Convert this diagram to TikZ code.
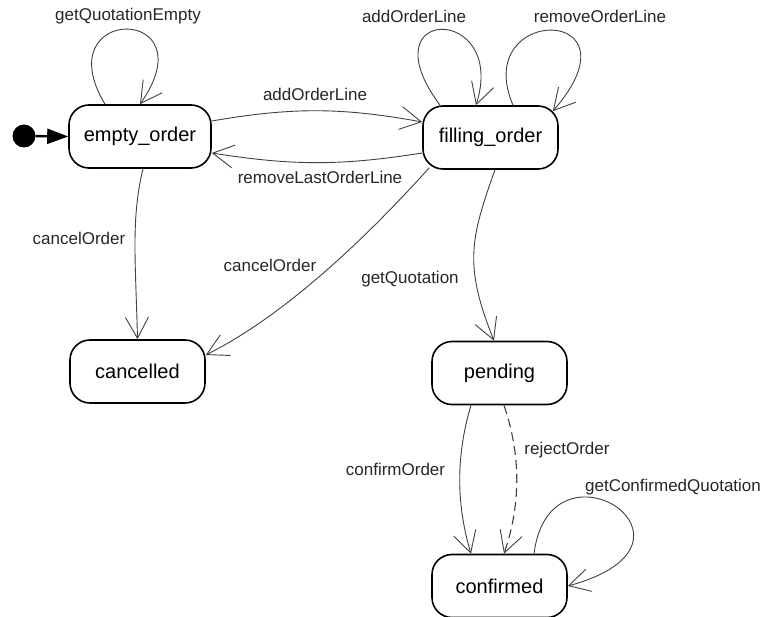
\documentclass[tikz,border=0pt]{standalone}
\usepackage{fontspec}
\setmainfont{Liberation Sans}
\usetikzlibrary{arrows.meta}

\tikzset{
  state/.style={draw=black, line width=1.6pt, rounded corners=20pt,
    minimum width=135pt, minimum height=63pt, inner sep=0pt,
    font=\fontsize{20}{24}\selectfont},
  trans/.style={draw=black!75, line width=0.9pt,
    -{Straight Barb[length=21pt,width=23pt,line width=0.9pt]}},
  lbl/.style={font=\fontsize{17}{20}\selectfont, inner sep=0pt, text=black!85},
  initdot/.style={circle, fill=black, minimum size=23pt, inner sep=0pt},
  initarrow/.style={line width=2.4pt, -{Triangle[length=21pt,width=15pt]}},
}

\begin{document}
\begin{tikzpicture}[x=1pt, y=1pt]
  \useasboundingbox (0,0) rectangle (769,-617);

  % states
  \node[state, minimum width=142pt] (eo) at (140,-136.5) {empty\_order};
  \node[state] (fo) at (490.5,-137.5) {filling\_order};
  \node[state] (ca) at (137.5,-371.5) {cancelled};
  \node[state] (pe) at (499.5,-373) {pending};
  \node[state] (co) at (499.5,-586) {confirmed};

  % initial pseudostate
  \node[initdot] (init) at (24,-136) {};
  \draw[initarrow] (init) -- (eo.west);

  % self loops
  \draw[trans] ([xshift=-35pt]eo.north) .. controls +(-60,100) and +(70,100) .. (eo.north);
  \draw[trans] ([xshift=-50.5pt]fo.north) .. controls +(-75,101) and +(32,101) .. ([xshift=-14.5pt]fo.north);
  \draw[trans] ([xshift=22.5pt]fo.north) .. controls +(-43,101) and +(93,107) .. ([xshift=-6pt,yshift=-6pt]fo.north east);
  \draw[trans] ([xshift=34.5pt]co.north) .. controls +(16,125) and +(158,43) .. (co.east);

  % transitions between states
  \draw[trans] ([yshift=15.5pt]eo.east) to[bend left=10] ([yshift=15.5pt]fo.west);
  \draw[trans] ([yshift=-15.5pt]fo.west) to[bend left=9] ([yshift=-16.5pt]eo.east);
  \draw[trans] ([xshift=3pt]eo.south) .. controls +(-12,-50) and +(-2,80) .. (ca.north);
  \draw[trans] ([xshift=7pt,yshift=2pt]fo.south west) .. controls +(-45,-50) and +(90,45) .. ([yshift=16.5pt]ca.east);
  \draw[trans] ([xshift=4.5pt]fo.south) .. controls +(-25,-70) and +(-30,75) .. ([xshift=-5.5pt]pe.north);
  \draw[trans] ([xshift=-28.5pt]pe.south) .. controls +(-15,-50) and +(-15,50) .. ([xshift=-28.5pt]co.north);
  \draw[trans, dash pattern=on 9pt off 5pt, line width=1.1pt] ([xshift=4.5pt]pe.south) .. controls +(17,-50) and +(17,50) .. ([xshift=4.5pt]co.north);

  % transition labels
  \node[lbl] (l1) at (128,-16) {getQuotationEmpty};
  \node[lbl] (l2) at (414,-16) {addOrderLine};
  \node[lbl] (l3) at (600,-16) {removeOrderLine};
  \node[lbl] (l4) at (315,-94) {addOrderLine};
  \node[lbl] (l5) at (320,-177) {removeLastOrderLine};
  \node[lbl] (l6) at (79,-238) {cancelOrder};
  \node[lbl] (l7) at (270,-265) {cancelOrder};
  \node[lbl] (l8) at (410,-279) {getQuotation};
  \node[lbl] (l9) at (395.5,-469) {confirmOrder};
  \node[lbl] (l10) at (567,-450) {rejectOrder};
  \node[lbl] (l11) at (673,-487) {getConfirmedQuotation};
\end{tikzpicture}
\end{document}
